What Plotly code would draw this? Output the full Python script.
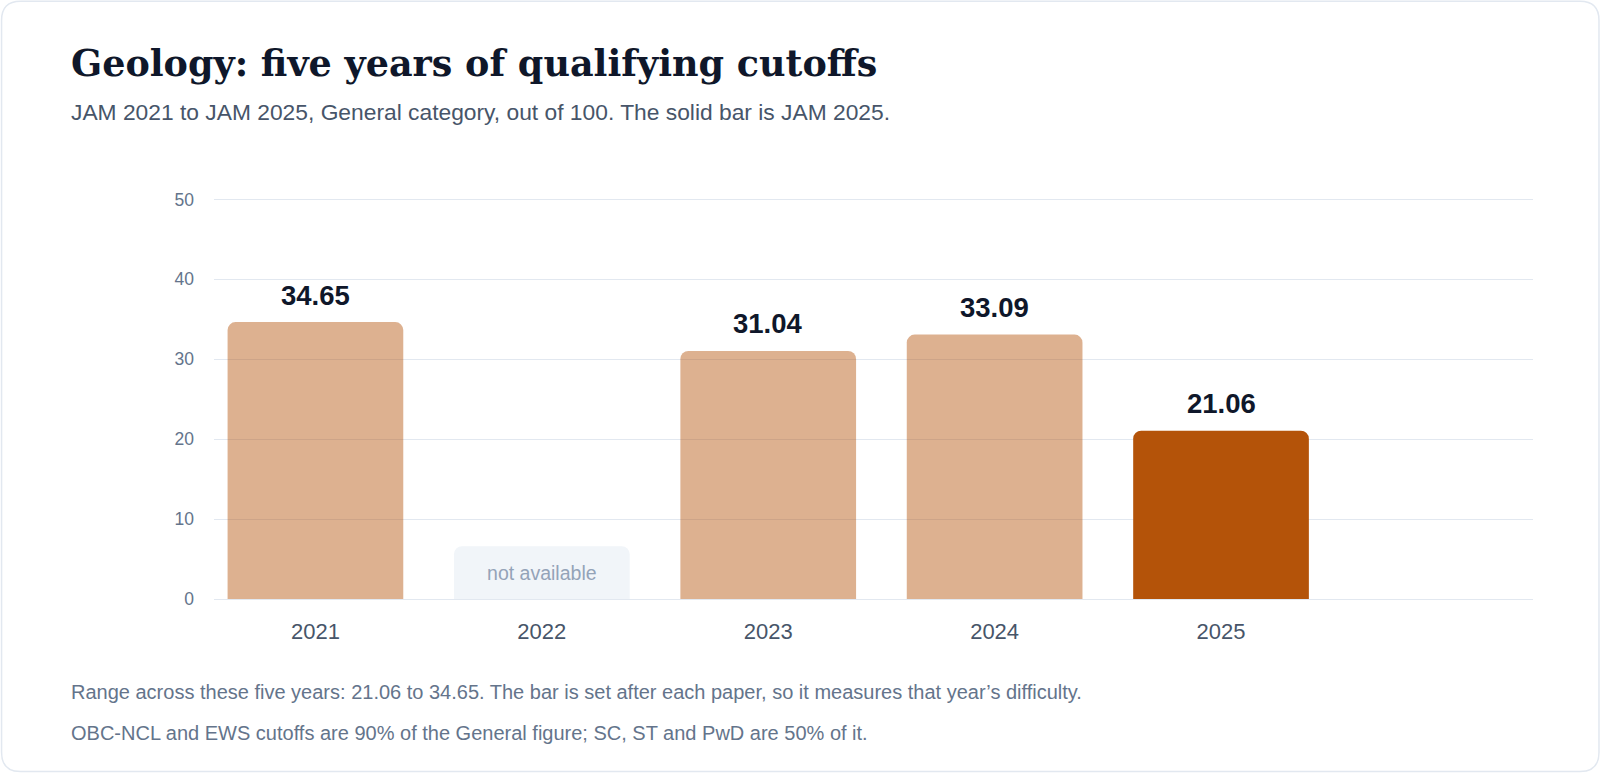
import plotly.graph_objects as go

# data
years = ["2021", "2022", "2023", "2024", "2025"]
cutoffs = [34.65, None, 31.04, 33.09, 21.06]
highlight_year = "2025"
y_ticks = [0, 10, 20, 30, 40, 50]

TITLE = "Geology: five years of qualifying cutoffs"
SUBTITLE = "JAM 2021 to JAM 2025, General category, out of 100. The solid bar is JAM 2025."
NOTES = [
    "Range across these five years: 21.06 to 34.65. The bar is set after each paper, so it measures that year\u2019s difficulty.",
    "OBC-NCL and EWS cutoffs are 90% of the General figure; SC, ST and PwD are 50% of it.",
]
MISSING_LABEL = "not available"
PLACEHOLDER_H = 6.6  # height of the grey "not available" block

Y_MAX = 50.3
W, H = 1600, 773
L, R, T, B = 213.5, 67, 196.9, 173.7
PW, PH = W - L - R, H - T - B


def px_x(x):
    return (x - L) / PW


def px_y(y):
    return (H - B - y) / PH


DARK = "#b45309"
LIGHT = "rgba(180,83,9,0.45)"
GRID = "#e2e8f0"
SANS = "Liberation Sans, Arial, Helvetica, sans-serif"
SERIF = "DejaVu Serif, Georgia, serif"

shown_x = [y for y, v in zip(years, cutoffs) if v is not None]
shown_v = [v for v in cutoffs if v is not None]
missing_x = [y for y, v in zip(years, cutoffs) if v is None]

fig = go.Figure()
fig.add_trace(
    go.Bar(
        x=shown_x,
        y=shown_v,
        marker=dict(
            color=[DARK if y == highlight_year else LIGHT for y in shown_x],
            cornerradius=8,
            line_width=0,
        ),
        width=0.776,
        hoverinfo="skip",
    )
)
fig.add_trace(
    go.Bar(
        x=missing_x,
        y=[PLACEHOLDER_H] * len(missing_x),
        marker=dict(color="#f1f5f9", cornerradius=8, line_width=0),
        width=0.776,
        text=[MISSING_LABEL] * len(missing_x),
        textposition="inside",
        insidetextanchor="middle",
        textfont=dict(family=SANS, size=19.5, color="#94a3b8"),
        hoverinfo="skip",
    )
)

# value labels above the bars (category index, since the years look numeric)
for x, v in zip(shown_x, shown_v):
    fig.add_annotation(
        xref="x", yref="y", x=years.index(x), y=v,
        text=f"<b>{v:.2f}</b>", showarrow=False,
        yanchor="bottom", yshift=9.5,
        font=dict(family=SANS, size=27.5, color="#0f172a"),
    )

# title, subtitle, notes
fig.add_annotation(
    xref="paper", yref="paper", x=px_x(68.5), y=px_y(63), xanchor="left", yanchor="middle",
    text=f"<b>{TITLE}</b>", showarrow=False,
    font=dict(family=SERIF, size=36.5, color="#0f172a"),
)
fig.add_annotation(
    xref="paper", yref="paper", x=px_x(68.5), y=px_y(112), xanchor="left", yanchor="middle",
    text=SUBTITLE, showarrow=False,
    font=dict(family=SANS, size=22.8, color="#475569"),
)
for i, note in enumerate(NOTES):
    fig.add_annotation(
        xref="paper", yref="paper", x=px_x(68.5), y=px_y(692 + 41 * i),
        xanchor="left", yanchor="middle", text=note, showarrow=False,
        font=dict(family=SANS, size=20, color="#64748b"),
    )

# card outline with rounded corners along the figure edge
x0, x1, y0, y1, r = 1, W - 1, 1, H - 1, 19
rx, ry = r / PW, r / PH
a, b_, c, d = px_x(x0), px_x(x1), px_y(y1), px_y(y0)
path = (
    f"M {a + rx},{c} L {b_ - rx},{c} Q {b_},{c} {b_},{c + ry} "
    f"L {b_},{d - ry} Q {b_},{d} {b_ - rx},{d} "
    f"L {a + rx},{d} Q {a},{d} {a},{d - ry} "
    f"L {a},{c + ry} Q {a},{c} {a + rx},{c} Z"
)
fig.add_shape(type="path", xref="paper", yref="paper", path=path,
              line=dict(color=GRID, width=1.5), layer="below")

fig.update_layout(
    width=W,
    height=H,
    margin=dict(l=L, r=R, t=T, b=B),
    paper_bgcolor="white",
    plot_bgcolor="white",
    showlegend=False,
    font=dict(family=SANS),
)
fig.update_xaxes(
    type="category",
    categoryorder="array",
    categoryarray=years,
    range=[-0.448, 5.378],
    showgrid=False,
    showline=False,
    ticks="",
    ticklabelstandoff=17,
    tickfont=dict(size=22, color="#475569"),
)
fig.update_yaxes(
    range=[0, Y_MAX],
    tickvals=y_ticks,
    gridcolor=GRID,
    gridwidth=1.3,
    zeroline=True,
    zerolinecolor=GRID,
    zerolinewidth=1.3,
    showline=False,
    ticklabelstandoff=19,
    tickfont=dict(size=17.5, color="#64748b"),
)

fig.write_html(
    "out.html",
    config={"displayModeBar": False},
    post_script="document.body.style.margin='0';document.body.style.overflow='hidden';",
)
